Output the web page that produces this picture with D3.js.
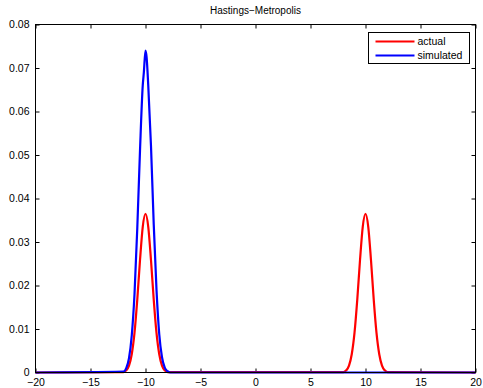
<!DOCTYPE html>
<html>
<head>
<meta charset="utf-8">
<script src="https://cdn.jsdelivr.net/npm/d3@7"></script>
<style>
  body { margin: 0; background: #fff; }
  svg text { font-family: "Liberation Sans", Arial, sans-serif; }
</style>
</head>
<body>
<div id="chart"></div>
<script>
// values
const xTicks = [-20, -15, -10, -5, 0, 5, 10, 15, 20];
const yTicks = [0, 0.01, 0.02, 0.03, 0.04, 0.05, 0.06, 0.07, 0.08];

const actualX = [-20, -12, -11.75, -11.5, -11.25, -11, -10.75, -10.5, -10.25, -10, -9.75, -9.5, -9.25, -9, -8.75, -8.5, -8.25, -8,
                 8, 8.25, 8.5, 8.75, 9, 9.25, 9.5, 9.75, 10, 10.25, 10.5, 10.75, 11, 11.25, 11.5, 11.75, 12, 20];
const actualY = [0, 0.0001, 0.0005, 0.0016, 0.0042, 0.0091, 0.0167, 0.0258, 0.0335, 0.0365, 0.0335, 0.0258, 0.0167, 0.0091, 0.0042, 0.0016, 0.0005, 0.0001,
                 0.0001, 0.0005, 0.0016, 0.0042, 0.0091, 0.0167, 0.0258, 0.0335, 0.0365, 0.0335, 0.0258, 0.0167, 0.0091, 0.0042, 0.0016, 0.0005, 0.0001, 0];

const simX = [-20, -12, -11.75, -11.5, -11.25, -11, -10.75, -10.5, -10.25, -10.15, -10, -9.9, -9.75, -9.5, -9.25, -9, -8.75, -8.5, -8.25, -8, -7.75, 20];
const simY = [0, 0.0002, 0.001, 0.0033, 0.0085, 0.018, 0.033, 0.051, 0.066, 0.069, 0.074, 0.0725, 0.066, 0.052, 0.034, 0.019, 0.0088, 0.0035, 0.0011, 0.0003, 0, 0];

const legendNames = ["actual", "simulated"];
const colors = ["#ff0000", "#0000ff"];

const cfg = {
  width: 483, height: 388,
  margin: { left: 35.5, right: 7.5, top: 24.5, bottom: 15.5 }
};

const x = d3.scaleLinear([-20, 20], [cfg.margin.left, cfg.width - cfg.margin.right]);
const y = d3.scaleLinear([0, 0.08], [cfg.height - cfg.margin.bottom, cfg.margin.top]);

const svg = d3.select("#chart").append("svg")
  .attr("width", cfg.width).attr("height", cfg.height);

const fmtY = d => d === 0 ? "0" : d3.format(".2f")(d);

// ticks pointing inward, on all four sides
svg.append("g")
  .attr("transform", `translate(0,${y(0)})`)
  .call(d3.axisBottom(x).tickValues(xTicks).tickSize(-4).tickPadding(6).tickFormat(d3.format("d")))
  .call(g => g.select(".domain").remove());
svg.append("g")
  .attr("transform", `translate(0,${y(0.08)})`)
  .call(d3.axisTop(x).tickValues(xTicks).tickSize(-4).tickFormat(""))
  .call(g => g.select(".domain").remove());
svg.append("g")
  .attr("transform", `translate(${x(-20)},0)`)
  .call(d3.axisLeft(y).tickValues(yTicks).tickSize(-4).tickPadding(6).tickFormat(fmtY))
  .call(g => g.select(".domain").remove());
svg.append("g")
  .attr("transform", `translate(${x(20)},0)`)
  .call(d3.axisRight(y).tickValues(yTicks).tickSize(-4).tickFormat(""))
  .call(g => g.select(".domain").remove());

svg.selectAll(".tick text").attr("font-size", 10.5).attr("fill", "#000");
svg.selectAll(".tick line").attr("stroke", "#000");

const line = d3.line().x(d => x(d[0])).y(d => y(d[1])).curve(d3.curveMonotoneX);

const series = [d3.zip(actualX, actualY), d3.zip(simX, simY)];
svg.append("g").selectAll("path")
  .data(series)
  .join("path")
  .attr("d", line)
  .attr("fill", "none")
  .attr("stroke", (d, i) => colors[i])
  .attr("stroke-width", 2.2)
  .attr("stroke-linejoin", "round");

// axes box
svg.append("rect")
  .attr("x", x(-20)).attr("y", y(0.08))
  .attr("width", x(20) - x(-20)).attr("height", y(0) - y(0.08))
  .attr("fill", "none").attr("stroke", "#000").attr("stroke-width", 1);

svg.append("text")
  .attr("x", (x(-20) + x(20)) / 2).attr("y", 14)
  .attr("text-anchor", "middle").attr("font-size", 10)
  .text("Hastings\u2212Metropolis");

// legend
const lg = svg.append("g").attr("transform", "translate(368.5,32.5)");
lg.append("rect").attr("width", 101).attr("height", 31)
  .attr("fill", "#fff").attr("stroke", "#000").attr("stroke-width", 1);
legendNames.forEach((name, i) => {
  const ly = 9 + i * 14;
  lg.append("line").attr("x1", 7).attr("x2", 46).attr("y1", ly).attr("y2", ly)
    .attr("stroke", colors[i]).attr("stroke-width", 2.2);
  lg.append("text").attr("x", 49).attr("y", ly + 3.8)
    .attr("font-size", 10.5).text(name);
});
</script>
</body>
</html>
